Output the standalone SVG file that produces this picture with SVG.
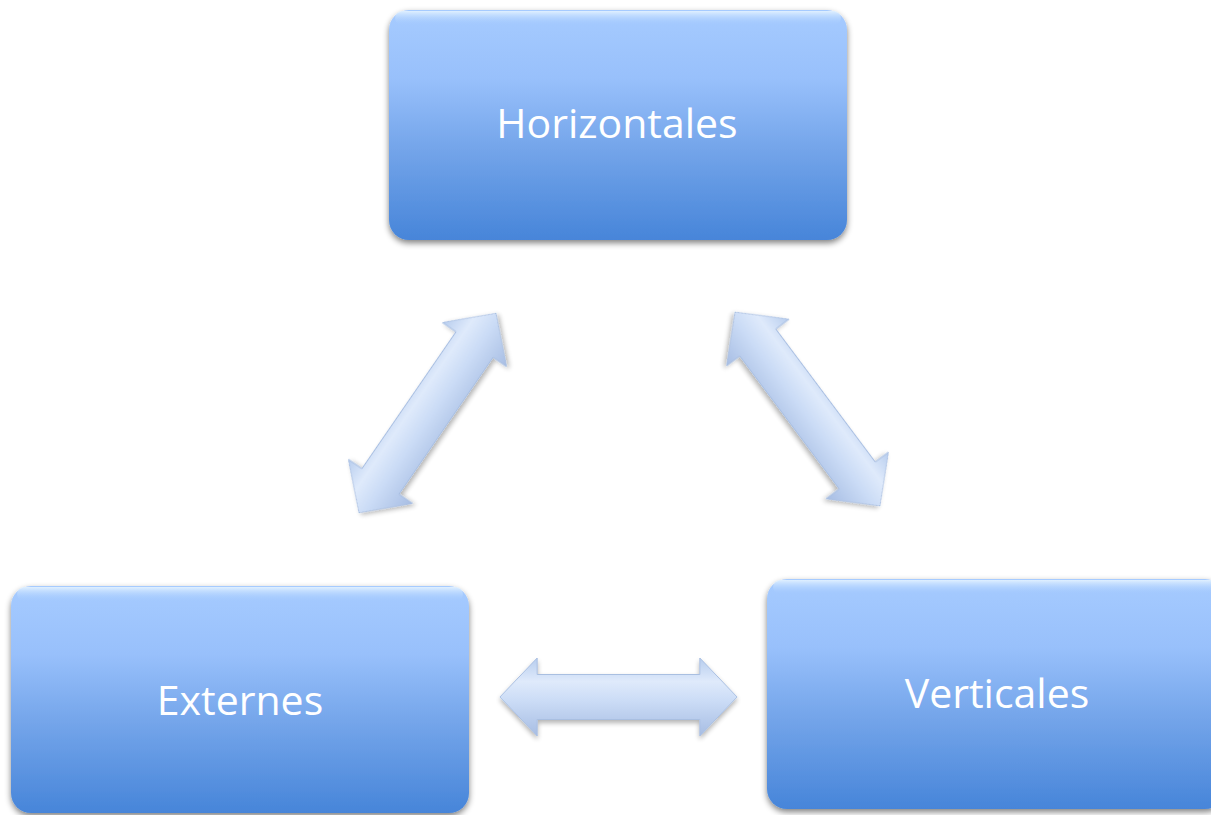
<svg xmlns="http://www.w3.org/2000/svg" width="1211" height="815" viewBox="0 0 1211 815">
<style>
.box{fill:url(#boxGrad);filter:url(#shadow)}
.hl{fill:url(#hlGrad)}
.lbl{font-family:"Open Sans",Lato,"Liberation Sans",sans-serif;font-size:41px;fill:#ffffff;text-anchor:middle;font-variant-ligatures:none}
.arr{fill:url(#arrGrad);stroke:#a9bfe2;stroke-width:1;filter:url(#ashadow)}
</style>
<defs>
<linearGradient id="boxGrad" x1="0" y1="0" x2="0" y2="1">
<stop offset="0" stop-color="#a6cbff"/>
<stop offset="0.3" stop-color="#98c0fb"/>
<stop offset="0.6" stop-color="#74a5ea"/>
<stop offset="1" stop-color="#4785d9"/>
</linearGradient>
<linearGradient id="hlGrad" x1="0" y1="0" x2="0" y2="1">
<stop offset="0" stop-color="#e6f4ff" stop-opacity="0.9"/>
<stop offset="1" stop-color="#a6cbff" stop-opacity="0"/>
</linearGradient>
<linearGradient id="arrGrad" x1="0" y1="-39" x2="0" y2="39" gradientUnits="userSpaceOnUse">
<stop offset="0" stop-color="#b7cdee"/>
<stop offset="0.3" stop-color="#dfeafb"/>
<stop offset="0.55" stop-color="#cbdcf6"/>
<stop offset="1" stop-color="#a7bde3"/>
</linearGradient>
<filter id="shadow" x="-10%" y="-10%" width="120%" height="125%">
<feGaussianBlur in="SourceAlpha" stdDeviation="3"/>
<feOffset dx="0" dy="3" result="b"/>
<feComponentTransfer><feFuncA type="linear" slope="0.5"/></feComponentTransfer>
<feMerge><feMergeNode/><feMergeNode in="SourceGraphic"/></feMerge>
</filter>
<filter id="ashadow" x="-20%" y="-40%" width="140%" height="180%">
<feGaussianBlur in="SourceAlpha" stdDeviation="2.5"/>
<feOffset dx="0" dy="3"/>
<feComponentTransfer><feFuncA type="linear" slope="0.3"/></feComponentTransfer>
<feMerge><feMergeNode/><feMergeNode in="SourceGraphic"/></feMerge>
</filter>
<path id="dbl" d="M -121 0 L -83 -39 L -83 -22.5 L 83 -22.5 L 83 -39 L 121 0 L 83 39 L 83 22.5 L -83 22.5 L -83 39 Z"/>
</defs>
<rect width="1211" height="815" fill="#ffffff"/>
<g id="connectors">
<use href="#dbl" class="arr" transform="translate(427.5,413) rotate(-55.5)"/>
<use href="#dbl" class="arr" transform="translate(807.5,409) rotate(53.2)"/>
<use href="#dbl" class="arr" transform="translate(618.5,697) scale(0.98,1)"/>
</g>
<g id="node-horizontales">
<rect class="box" x="389" y="10" width="458" height="230" rx="20"/>
<rect class="hl" x="395" y="11" width="446" height="14" rx="7"/>
<text class="lbl" x="617" y="138">Horizontales</text>
</g>
<g id="node-externes">
<rect class="box" x="11" y="586" width="458" height="227" rx="20"/>
<rect class="hl" x="17" y="587" width="446" height="14" rx="7"/>
<text class="lbl" x="240" y="715">Externes</text>
</g>
<g id="node-verticales">
<rect class="box" x="767" y="579" width="458" height="230" rx="20"/>
<rect class="hl" x="773" y="580" width="446" height="14" rx="7"/>
<text class="lbl" x="997" y="708">Verticales</text>
</g>
</svg>
